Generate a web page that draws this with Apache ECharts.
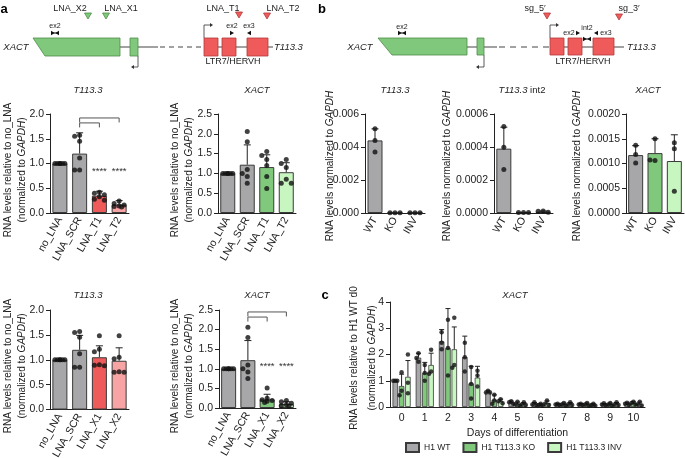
<!DOCTYPE html>
<html><head><meta charset="utf-8">
<script src="https://cdn.jsdelivr.net/npm/echarts@6/dist/echarts.min.js"></script>
<style>html,body{margin:0;padding:0;background:#fff}#c{width:685px;height:458px}</style>
</head><body><div id="c"></div>
<script>
// ================= DATA =================
// Panel a, top row (T113.3-targeting LNAs)
const aTopCats = ['no_LNA', 'LNA_SCR', 'LNA_T1', 'LNA_T2'];
const a1Mean = [1.00, 1.20, 0.35, 0.17];
const a1SD   = [0.00, 0.42, 0.09, 0.08];
const a1Pts  = [
  [1, 1, 1, 1, 1, 1],
  [1.57, 1.55, 1.45, 1.11, 0.87, 0.87],
  [0.42, 0.40, 0.37, 0.33, 0.28, 0.26],
  [0.24, 0.19, 0.16, 0.14, 0.13, 0.12]
];
const a2Mean = [1.00, 1.22, 1.16, 1.03];
const a2SD   = [0.00, 0.50, 0.31, 0.24];
const a2Pts  = [
  [1, 1, 1, 1, 1, 1],
  [2.06, 1.80, 1.10, 1.00, 0.92, 0.75],
  [1.55, 1.45, 1.35, 1.20, 0.92, 0.62],
  [1.35, 1.25, 1.15, 0.85, 0.75, 0.75]
];
// Panel a, bottom row (XACT-targeting LNAs)
const aBotCats = ['no_LNA', 'LNA_SCR', 'LNA_X1', 'LNA_X2'];
const a3Mean = [1.00, 1.20, 1.05, 0.98];
const a3SD   = [0.00, 0.29, 0.23, 0.26];
const a3Pts  = [
  [1, 1, 1, 1, 1, 1],
  [1.57, 1.55, 1.45, 1.12, 0.85, 0.85],
  [1.48, 1.21, 1.16, 0.90, 0.89, 0.88],
  [1.48, 1.05, 1.02, 0.76, 0.75, 0.75]
];
const a4Mean = [1.00, 1.22, 0.22, 0.10];
const a4SD   = [0.00, 0.50, 0.13, 0.06];
const a4Pts  = [
  [1, 1, 1, 1, 1, 1],
  [2.06, 1.80, 1.10, 1.00, 0.92, 0.75],
  [0.51, 0.25, 0.21, 0.19, 0.17, 0.14],
  [0.19, 0.16, 0.12, 0.08, 0.06, 0.05]
];
// significance brackets [fromCat, toCat, y] and stars [cat, y]
const a1Brackets = [[1, 3, 1.92], [1, 2, 1.82]];
const a1Stars = [[2, 0.85], [3, 0.85]];
const a1StarText = ['****', '****'];
const a4Brackets = [[1, 3, 2.45], [1, 2, 2.32]];
const a4Stars = [[2, 1.05], [3, 1.05]];
const a4StarText = ['****', '****'];

// Panel b
const bCats = ['WT', 'KO', 'INV'];
const b1Mean = [0.00440, 0.00001, 0.00001];
const b1SD   = [0.00070, 0, 0];
const b1Pts  = [[0.00510, 0.00440, 0.00370], [0.00001, 0.00001, 0.00001], [0.00002, 0.00002, 0.00002]];
const b2Mean = [0.000390, 0.000003, 0.000008];
const b2SD   = [0.000130, 0, 0.000004];
const b2Pts  = [[0.000525, 0.000398, 0.000263], [0.000003, 0.000003, 0.000003], [0.000012, 0.000010, 0.000004]];
const b3Mean = [0.00117, 0.00121, 0.00105];
const b3SD   = [0.00019, 0.00029, 0.00053];
const b3Pts  = [[0.00137, 0.00118, 0.00101], [0.00150, 0.00106, 0.00107], [0.00142, 0.00130, 0.00044]];

// Panel c
const cDays = ['0', '1', '2', '3', '4', '5', '6', '7', '8', '9', '10'];
const cNames = ['H1 WT', 'H1 T113.3 KO', 'H1 T113.3 INV'];
const cWTMean  = [1.00, 1.88, 2.50, 1.90, 0.57, 0.18, 0.12, 0.10, 0.10, 0.10, 0.12];
const cWTSD    = [0.00, 0.17, 0.45, 0.80, 0.05, 0.05, 0.05, 0.03, 0.03, 0.03, 0.04];
const cKOMean  = [0.80, 1.30, 2.25, 0.90, 0.28, 0.12, 0.08, 0.10, 0.10, 0.10, 0.15];
const cKOSD    = [0.45, 0.40, 1.50, 0.65, 0.18, 0.07, 0.04, 0.05, 0.05, 0.05, 0.05];
const cINVMean = [1.15, 1.60, 2.20, 1.12, 0.22, 0.12, 0.15, 0.12, 0.08, 0.12, 0.12];
const cINVSD   = [0.62, 0.45, 0.85, 0.43, 0.08, 0.05, 0.08, 0.05, 0.04, 0.05, 0.07];
const cWTPts = [[1.0,1.0,1.0],[2.05,1.72,1.87],[2.85,2.20,2.45],[2.45,1.35,1.90],[0.62,0.55,0.55],[0.22,0.18,0.12],[0.18,0.10,0.08],[0.12,0.10,0.08],[0.12,0.10,0.08],[0.14,0.10,0.07],[0.16,0.12,0.08]];
const cKOPts = [[1.32,0.62,0.45],[1.60,1.30,1.00],[3.32,1.20,2.25],[1.52,0.88,0.32],[0.47,0.25,0.12],[0.20,0.10,0.06],[0.12,0.08,0.05],[0.15,0.10,0.05],[0.15,0.10,0.05],[0.15,0.10,0.05],[0.20,0.15,0.10]];
const cINVPts = [[2.00,0.92,0.52],[2.18,1.35,1.27],[3.40,1.60,1.50],[1.38,1.20,0.78],[0.30,0.22,0.14],[0.18,0.10,0.08],[0.25,0.12,0.08],[0.18,0.10,0.08],[0.12,0.08,0.05],[0.18,0.10,0.08],[0.20,0.10,0.06]];

// ================= STYLE =================
const FONT = '"Liberation Sans", Arial, Helvetica, sans-serif';
const TXT = '#222';
const GRAY = '#a7a7aa', RED = '#ef5a5a', PINK = '#f8a4a4', GREEN = '#80c97c', LGREEN = '#c8f6c0';
const BORDER = '#3a3a3a';
const TICKFS = 10.5;

const grids = [], xAxes = [], yAxes = [], series = [], G = [];

// simple beeswarm: horizontal pixel offsets so dots don't overlap
function swarm(vals, pxPerUnit, step, maxOff, thr) {
  const placed = [], offs = [];
  const cands = [0];
  for (let k = 1; k * step <= maxOff + 0.01; k++) { cands.push(-k * step, k * step); }
  vals.forEach(v => {
    const y = v * pxPerUnit;
    let chosen = null, best = -1, bestC = 0;
    for (const c of cands) {
      const md = placed.length ? Math.min(...placed.map(p => Math.hypot(p[0] - c, p[1] - y))) : Infinity;
      if (md >= thr) { chosen = c; break; }
      if (md > best + 0.01) { best = md; bestC = c; }
    }
    if (chosen === null) chosen = bestC;
    placed.push([chosen, y]); offs.push(chosen);
  });
  return offs;
}

function errSeries(gi, means, sds, off, cap) {
  return {
    type: 'custom', xAxisIndex: gi, yAxisIndex: gi, z: 3, silent: true,
    data: means.map((m, i) => [i, m, sds[i]]),
    encode: { x: 0, y: 1 },
    renderItem: (p, api) => {
      const e = api.value(2);
      if (!e) return null;
      const c = api.value(0), m = api.value(1);
      const p0 = api.coord([c, m]), p1 = api.coord([c, m + e]);
      const x = p0[0] + off;
      return { type: 'group', children: [
        { type: 'line', shape: { x1: x, y1: p0[1], x2: x, y2: p1[1] }, style: { stroke: '#222', lineWidth: 1 } },
        { type: 'line', shape: { x1: x - cap, y1: p1[1], x2: x + cap, y2: p1[1] }, style: { stroke: '#222', lineWidth: 1 } }
      ]};
    }
  };
}

function addPanel(cfg) {
  const gi = grids.length;
  grids.push({ left: cfg.left, top: cfg.top, width: cfg.width, height: cfg.height, containLabel: false, outerBoundsMode: 'none' });
  xAxes.push({
    type: 'category', gridIndex: gi, data: cfg.cats, boundaryGap: true,
    axisLine: { lineStyle: { color: '#222', width: 1 } },
    axisTick: { alignWithLabel: true, length: 4, lineStyle: { color: '#222' } },
    axisLabel: { rotate: 60, fontSize: TICKFS, color: TXT, margin: 5, fontFamily: FONT, interval: 0 },
    splitLine: { show: false }
  });
  yAxes.push({
    type: 'value', gridIndex: gi, min: 0, max: cfg.max, interval: cfg.interval,
    axisLine: { show: true, lineStyle: { color: '#222', width: 1 } },
    axisTick: { show: true, length: 4, lineStyle: { color: '#222' } },
    splitLine: { show: false },
    axisLabel: { fontSize: TICKFS, color: TXT, margin: 6, fontFamily: FONT, formatter: v => v.toFixed(cfg.dec) }
  });
  series.push({
    type: 'bar', xAxisIndex: gi, yAxisIndex: gi, barWidth: 15, z: 2, silent: true,
    itemStyle: { borderColor: BORDER, borderWidth: 1 },
    data: cfg.means.map((m, i) => ({ value: m, itemStyle: { color: cfg.colors[i], borderColor: BORDER, borderWidth: 1 } }))
  });
  series.push(errSeries(gi, cfg.means, cfg.sds, 0, 3.5));
  const ppu = cfg.height / cfg.max;
  const sdata = [];
  cfg.pts.forEach((arr, i) => {
    const offs = swarm(arr, ppu, 2.5, 5, 5);
    arr.forEach((v, k) => sdata.push({ value: [i, v], symbolOffset: [offs[k], 0] }));
  });
  series.push({ type: 'scatter', xAxisIndex: gi, yAxisIndex: gi, z: 4, silent: true, symbolSize: 5, itemStyle: { color: '#111' }, data: sdata });
  if (cfg.brackets) {
    series.push({
      type: 'custom', xAxisIndex: gi, yAxisIndex: gi, z: 5, silent: true,
      data: cfg.brackets, encode: { x: [0, 1], y: 2 },
      renderItem: (p, api) => {
        const a = api.coord([api.value(0), api.value(2)]);
        const b = api.coord([api.value(1), api.value(2)]);
        return { type: 'polyline', shape: { points: [[a[0], a[1] + 4.5], [a[0], a[1]], [b[0], b[1]], [b[0], b[1] + 4.5]] },
          style: { stroke: '#555', fill: null, lineWidth: 1 } };
      }
    });
    series.push({
      type: 'custom', xAxisIndex: gi, yAxisIndex: gi, z: 5, silent: true,
      data: cfg.stars, encode: { x: 0, y: 1 },
      renderItem: (p, api) => {
        const c = api.coord([api.value(0), api.value(1)]);
        return { type: 'text', x: c[0], y: c[1], style: { text: cfg.starText[p.dataIndex], fontSize: 9.5, fontFamily: FONT, fill: '#333', align: 'center', verticalAlign: 'middle' } };
      }
    });
  }
  return gi;
}

// Panel a charts
addPanel({ left: 50, top: 114, width: 79, height: 99, cats: aTopCats, max: 2.0, interval: 0.5, dec: 1, means: a1Mean, sds: a1SD, pts: a1Pts, colors: [GRAY, GRAY, RED, PINK], brackets: a1Brackets, stars: a1Stars, starText: a1StarText });
addPanel({ left: 218, top: 114, width: 78, height: 99, cats: aTopCats, max: 2.5, interval: 0.5, dec: 1, means: a2Mean, sds: a2SD, pts: a2Pts, colors: [GRAY, GRAY, GREEN, LGREEN] });
addPanel({ left: 50, top: 310, width: 79, height: 99.5, cats: aBotCats, max: 2.0, interval: 0.5, dec: 1, means: a3Mean, sds: a3SD, pts: a3Pts, colors: [GRAY, GRAY, RED, PINK] });
addPanel({ left: 219, top: 310, width: 77, height: 98, cats: aBotCats, max: 2.5, interval: 0.5, dec: 1, means: a4Mean, sds: a4SD, pts: a4Pts, colors: [GRAY, GRAY, GREEN, LGREEN], brackets: a4Brackets, stars: a4Stars, starText: a4StarText });
// Panel b charts
addPanel({ left: 365, top: 114, width: 60, height: 99, cats: bCats, max: 0.006, interval: 0.002, dec: 3, means: b1Mean, sds: b1SD, pts: b1Pts, colors: [GRAY, GRAY, GRAY] });
addPanel({ left: 494, top: 114, width: 59, height: 99, cats: bCats, max: 0.0006, interval: 0.0002, dec: 4, means: b2Mean, sds: b2SD, pts: b2Pts, colors: [GRAY, GRAY, GRAY] });
addPanel({ left: 626, top: 114, width: 58, height: 99, cats: bCats, max: 0.002, interval: 0.0005, dec: 4, means: b3Mean, sds: b3SD, pts: b3Pts, colors: [GRAY, GREEN, LGREEN] });

// Panel c
(function () {
  const gi = grids.length;
  const H = 105, MAX = 4;
  grids.push({ left: 390, top: 302, width: 255, height: H, containLabel: false, outerBoundsMode: 'none' });
  xAxes.push({
    type: 'category', gridIndex: gi, data: cDays, boundaryGap: true,
    axisLine: { lineStyle: { color: '#222', width: 1 } },
    axisTick: { alignWithLabel: true, length: 4, lineStyle: { color: '#222' } },
    axisLabel: { fontSize: TICKFS, color: TXT, margin: 6, fontFamily: FONT, interval: 0 },
    name: 'Days of differentiation', nameLocation: 'middle', nameGap: 21,
    nameTextStyle: { fontSize: 10.5, color: TXT, fontFamily: FONT }
  });
  yAxes.push({
    type: 'value', gridIndex: gi, min: 0, max: MAX, interval: 1,
    axisLine: { show: true, lineStyle: { color: '#222', width: 1 } },
    axisTick: { show: true, length: 4, lineStyle: { color: '#222' } },
    splitLine: { show: false },
    axisLabel: { fontSize: TICKFS, color: TXT, margin: 6, fontFamily: FONT }
  });
  const means = [cWTMean, cKOMean, cINVMean];
  const sds = [cWTSD, cKOSD, cINVSD];
  const pts = [cWTPts, cKOPts, cINVPts];
  const cols = [GRAY, GREEN, LGREEN];
  const bw = 5.5, gap = 0.15, step = bw * (1 + gap);
  for (let s = 0; s < 3; s++) {
    series.push({ type: 'bar', name: cNames[s], xAxisIndex: gi, yAxisIndex: gi, barWidth: bw, barGap: '15%', z: 2, silent: true,
      itemStyle: { color: cols[s], borderColor: BORDER, borderWidth: 0.8 }, data: means[s] });
  }
  for (let s = 0; s < 3; s++) {
    const off = (s - 1) * step;
    series.push(errSeries(gi, means[s], sds[s], off, 2.5));
    const sdata = [];
    pts[s].forEach((arr, i) => {
      const offs = swarm(arr, H / MAX, 2, 3, 4.5);
      arr.forEach((v, k) => sdata.push({ value: [i, v], symbolOffset: [off + offs[k], 0] }));
    });
    series.push({ type: 'scatter', xAxisIndex: gi, yAxisIndex: gi, z: 4, silent: true, symbolSize: 4.5, itemStyle: { color: '#111' }, data: sdata });
  }
})();

// ================= GRAPHICS (text & gene diagrams) =================
function T(x, y, text, o = {}) {
  const st = { text, fontSize: o.size || 9, fontFamily: FONT, fill: o.color || TXT, align: o.align || 'center', verticalAlign: 'middle',
    fontStyle: o.italic ? 'italic' : 'normal', fontWeight: o.bold ? 'bold' : 'normal' };
  if (o.rich) st.rich = o.rich;
  G.push({ type: 'text', x, y, rotation: o.rot || 0, style: st, z: 10, silent: true });
}
function L(x1, y1, x2, y2, o = {}) { G.push({ type: 'line', shape: { x1, y1, x2, y2 }, style: { stroke: o.color || '#444', lineWidth: o.w || 1, lineDash: o.dash || null }, silent: true }); }
function P(points, fill, stroke) { G.push({ type: 'polygon', shape: { points }, style: { fill, stroke: stroke || null, lineWidth: 0.8 }, silent: true }); }
function PL(points, o = {}) { G.push({ type: 'polyline', shape: { points }, style: { stroke: o.color || '#333', lineWidth: o.w || 0.8, fill: null }, silent: true }); }
function R(x, y, w, h, fill, stroke) { G.push({ type: 'rect', shape: { x, y, width: w, height: h }, style: { fill, stroke, lineWidth: 0.8 }, silent: true }); }
function downTri(x, y, fill, stroke) { P([[x - 3.5, y - 3], [x + 3.5, y - 3], [x, y + 3]], fill, stroke); }
function rightTri(x, y) { P([[x - 2, y - 2.2], [x - 2, y + 2.2], [x + 2, y]], '#111'); }
function leftTri(x, y) { P([[x + 2, y - 2.2], [x + 2, y + 2.2], [x - 2, y]], '#111'); }
function bowtie(x, y) {
  P([[x - 4, y - 2.2], [x - 4, y + 2.2], [x - 0.3, y]], '#111');
  P([[x + 4, y - 2.2], [x + 4, y + 2.2], [x + 0.3, y]], '#111');
  L(x - 4, y, x + 4, y, { color: '#111' });
}
function arrowR(x, y0, y1, x1) { PL([[x, y0], [x, y1], [x1 - 2, y1]]); P([[x1, y1], [x1 - 3, y1 - 2], [x1 - 3, y1 + 2]], '#333'); }
function arrowL(x, y0, y1, x1) { PL([[x, y0], [x, y1], [x1 + 2, y1]]); P([[x1, y1], [x1 + 3, y1 - 2], [x1 + 3, y1 + 2]], '#333'); }

const GS = '#4e8c4a', RS = '#b33b3b';
const IT = { i: { fontStyle: 'italic', fontSize: 10, fontFamily: FONT, fill: TXT } };

// panel letters
T(4, 9, 'a', { bold: true, size: 13, color: '#000' });
T(322, 9, 'b', { bold: true, size: 13, color: '#000' });
T(325, 295, 'c', { bold: true, size: 13, color: '#000' });

// --- gene diagram a ---
L(120, 47, 130, 47); L(138, 47, 158, 47); L(160, 47, 203, 47, { dash: [5, 4] });
L(218, 47, 222, 47); L(236, 47, 247, 47); L(268, 47, 273, 47);
P([[33, 38], [120, 38], [120, 56], [45, 56]], GREEN, GS);
R(130, 38, 8, 18, GREEN, GS);
R(204, 38, 14, 18, RED, RS); R(222, 38, 14, 18, RED, RS); R(247, 38, 21, 18, RED, RS);
arrowL(138, 56, 67, 131);
arrowR(204, 38, 25, 213);
T(16, 47, 'XACT', { italic: true, size: 9.5 });
T(274, 47, 'T113.3', { italic: true, size: 9.5, align: 'left' });
T(233, 62, 'LTR7/HERVH', { size: 9 });
T(70, 9, 'LNA_X2'); T(121, 9, 'LNA_X1'); T(223, 9, 'LNA_T1'); T(283, 9, 'LNA_T2');
downTri(88, 16, GREEN, GS); downTri(106, 16, GREEN, GS); downTri(239, 15, RED, RS); downTri(267, 16, RED, RS);
T(55, 26, 'ex2', { size: 7 }); bowtie(55, 33);
T(232, 26, 'ex2', { size: 7 }); rightTri(232, 33);
T(249, 26, 'ex3', { size: 7 }); leftTri(249, 33);

// --- gene diagram b ---
L(467, 47, 477, 47); L(484, 47, 497, 47); L(499, 47, 549, 47, { dash: [6, 5] });
L(564, 47, 568, 47); L(582, 47, 593, 47); L(614, 47, 624, 47);
P([[378, 38], [467, 38], [467, 55], [392, 55]], GREEN, GS);
R(477, 38, 7, 17, GREEN, GS);
R(550, 38, 14, 17, RED, RS); R(568, 38, 14, 17, RED, RS); R(593, 38, 21, 17, RED, RS);
arrowL(484, 55, 67, 476);
arrowR(550, 38, 25, 559);
T(360, 47, 'XACT', { italic: true, size: 9.5 });
T(627, 47, 'T113.3', { italic: true, size: 9.5, align: 'left' });
T(583, 62, 'LTR7/HERVH', { size: 9 });
T(535, 9, 'sg_5\u2032'); T(629, 9, 'sg_3\u2032');
downTri(547, 16, RED, RS); downTri(619, 17, RED, RS);
T(402, 27, 'ex2', { size: 7 }); bowtie(402, 33);
T(569, 33, 'ex2', { size: 7 }); rightTri(578, 33);
T(587, 28, 'int2', { size: 7 }); bowtie(587, 39);
T(606, 33, 'ex3', { size: 7 }); leftTri(596, 33);

// --- chart titles ---
T(88, 90, 'T113.3', { italic: true, size: 9.5 });
T(257, 90, 'XACT', { italic: true, size: 9.5 });
T(88, 295, 'T113.3', { italic: true, size: 9.5 });
T(257, 295, 'XACT', { italic: true, size: 9.5 });
T(395, 90, 'T113.3', { italic: true, size: 9.5 });
T(522, 90, '{i|T113.3} int2', { size: 9.5, rich: { i: { fontStyle: 'italic', fontSize: 9.5, fontFamily: FONT, fill: TXT } } });
T(648, 90, 'XACT', { italic: true, size: 9.5 });
T(515, 295, 'XACT', { italic: true, size: 9.5 });

// --- y axis titles ---
const R90 = Math.PI / 2;
T(8, 170, 'RNA levels relative to no_LNA', { size: 10, rot: R90 });
T(22, 170, '(normalized to {i|GAPDH})', { size: 10, rot: R90, rich: IT });
T(175, 170, 'RNA levels relative to no_LNA', { size: 10, rot: R90 });
T(189, 170, '(normalized to {i|GAPDH})', { size: 10, rot: R90, rich: IT });
T(8, 366, 'RNA levels relative to no_LNA', { size: 10, rot: R90 });
T(22, 366, '(normalized to {i|GAPDH})', { size: 10, rot: R90, rich: IT });
T(175, 366, 'RNA levels relative to no_LNA', { size: 10, rot: R90 });
T(189, 366, '(normalized to {i|GAPDH})', { size: 10, rot: R90, rich: IT });
T(330, 166, 'RNA levels normalized to {i|GAPDH}', { size: 10, rot: R90, rich: IT });
T(447, 166, 'RNA levels normalized to {i|GAPDH}', { size: 10, rot: R90, rich: IT });
T(577, 166, 'RNA levels normalized to {i|GAPDH}', { size: 10, rot: R90, rich: IT });
T(354, 358, 'RNA levels relative to H1 WT d0', { size: 10, rot: R90 });
T(372, 358, '(normalized to {i|GAPDH})', { size: 10, rot: R90, rich: IT });

const chart = echarts.init(document.getElementById('c'), null, { renderer: 'canvas' });
chart.setOption({
  animation: false,
  backgroundColor: '#fff',
  textStyle: { fontFamily: FONT },
  grid: grids, xAxis: xAxes, yAxis: yAxes, series: series,
  legend: {
    data: cNames, left: 405, top: 442, itemWidth: 13, itemHeight: 9, itemGap: 12, icon: 'rect',
    textStyle: { fontSize: 8.5, color: TXT, fontFamily: FONT }, selectedMode: false, padding: 0
  },
  graphic: G
});
</script>
</body></html>
